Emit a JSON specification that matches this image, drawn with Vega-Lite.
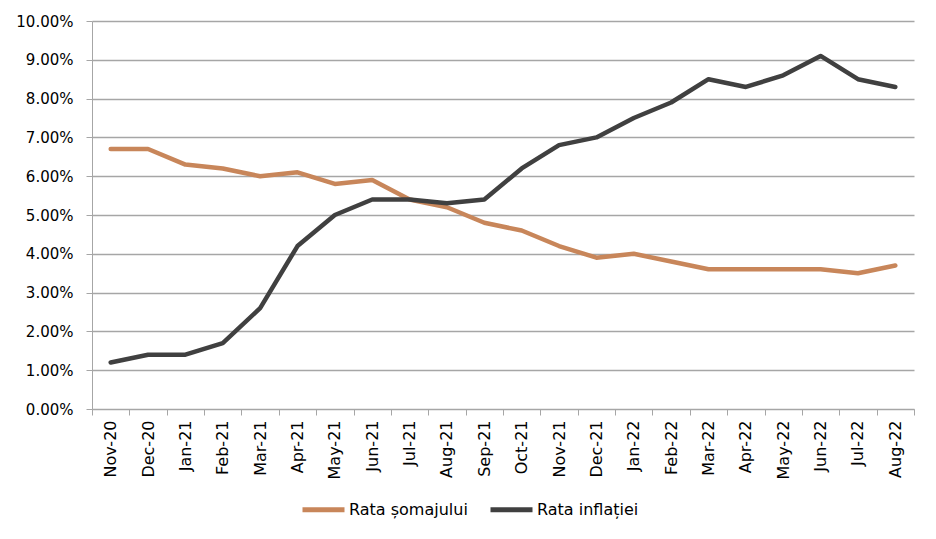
{
  "$schema": "https://vega.github.io/schema/vega-lite/v6.json",
  "width": 822,
  "height": 388,
  "autosize": {"type": "none"},
  "padding": {"left": 92, "top": 21, "right": 22, "bottom": 130},
  "background": "white",
  "config": {
    "view": {"stroke": null},
    "font": "DejaVu Sans",
    "axis": {"labelFont": "DejaVu Sans", "labelColor": "#000000", "gridColor": "#A6A6A6", "domainColor": "#A6A6A6", "tickColor": "#A6A6A6"},
    "legend": {"labelFont": "DejaVu Sans"}
  },
  "data": {
    "values": [
      {"month": "Nov-20", "series": "Rata șomajului", "value": 6.7},
      {"month": "Dec-20", "series": "Rata șomajului", "value": 6.7},
      {"month": "Jan-21", "series": "Rata șomajului", "value": 6.3},
      {"month": "Feb-21", "series": "Rata șomajului", "value": 6.2},
      {"month": "Mar-21", "series": "Rata șomajului", "value": 6.0},
      {"month": "Apr-21", "series": "Rata șomajului", "value": 6.1},
      {"month": "May-21", "series": "Rata șomajului", "value": 5.8},
      {"month": "Jun-21", "series": "Rata șomajului", "value": 5.9},
      {"month": "Jul-21", "series": "Rata șomajului", "value": 5.4},
      {"month": "Aug-21", "series": "Rata șomajului", "value": 5.2},
      {"month": "Sep-21", "series": "Rata șomajului", "value": 4.8},
      {"month": "Oct-21", "series": "Rata șomajului", "value": 4.6},
      {"month": "Nov-21", "series": "Rata șomajului", "value": 4.2},
      {"month": "Dec-21", "series": "Rata șomajului", "value": 3.9},
      {"month": "Jan-22", "series": "Rata șomajului", "value": 4.0},
      {"month": "Feb-22", "series": "Rata șomajului", "value": 3.8},
      {"month": "Mar-22", "series": "Rata șomajului", "value": 3.6},
      {"month": "Apr-22", "series": "Rata șomajului", "value": 3.6},
      {"month": "May-22", "series": "Rata șomajului", "value": 3.6},
      {"month": "Jun-22", "series": "Rata șomajului", "value": 3.6},
      {"month": "Jul-22", "series": "Rata șomajului", "value": 3.5},
      {"month": "Aug-22", "series": "Rata șomajului", "value": 3.7},
      {"month": "Nov-20", "series": "Rata inflației", "value": 1.2},
      {"month": "Dec-20", "series": "Rata inflației", "value": 1.4},
      {"month": "Jan-21", "series": "Rata inflației", "value": 1.4},
      {"month": "Feb-21", "series": "Rata inflației", "value": 1.7},
      {"month": "Mar-21", "series": "Rata inflației", "value": 2.6},
      {"month": "Apr-21", "series": "Rata inflației", "value": 4.2},
      {"month": "May-21", "series": "Rata inflației", "value": 5.0},
      {"month": "Jun-21", "series": "Rata inflației", "value": 5.4},
      {"month": "Jul-21", "series": "Rata inflației", "value": 5.4},
      {"month": "Aug-21", "series": "Rata inflației", "value": 5.3},
      {"month": "Sep-21", "series": "Rata inflației", "value": 5.4},
      {"month": "Oct-21", "series": "Rata inflației", "value": 6.2},
      {"month": "Nov-21", "series": "Rata inflației", "value": 6.8},
      {"month": "Dec-21", "series": "Rata inflației", "value": 7.0},
      {"month": "Jan-22", "series": "Rata inflației", "value": 7.5},
      {"month": "Feb-22", "series": "Rata inflației", "value": 7.9},
      {"month": "Mar-22", "series": "Rata inflației", "value": 8.5},
      {"month": "Apr-22", "series": "Rata inflației", "value": 8.3},
      {"month": "May-22", "series": "Rata inflației", "value": 8.6},
      {"month": "Jun-22", "series": "Rata inflației", "value": 9.1},
      {"month": "Jul-22", "series": "Rata inflației", "value": 8.5},
      {"month": "Aug-22", "series": "Rata inflației", "value": 8.3}
    ]
  },
  "mark": {"type": "line", "strokeWidth": 4.5, "strokeCap": "round", "strokeJoin": "round"},
  "encoding": {
    "x": {
      "field": "month",
      "type": "ordinal",
      "sort": null,
      "bandPosition": 0.5,
      "scale": {"type": "band", "paddingInner": 0, "paddingOuter": 0},
      "axis": {
        "title": null,
        "labelAngle": -90,
        "labelFontSize": 16,
        "labelPadding": 5,
        "tickBand": "extent",
        "tickSize": 6,
        "grid": false,
        "domainColor": "#A6A6A6"
      }
    },
    "y": {
      "field": "value",
      "type": "quantitative",
      "scale": {"domain": [0, 10], "nice": false},
      "axis": {
        "title": null,
        "values": [0, 1, 2, 3, 4, 5, 6, 7, 8, 9, 10],
        "labelExpr": "format(datum.value, '.2f') + '%'",
        "labelFontSize": 15,
        "labelPadding": 13,
        "tickSize": 6,
        "grid": true,
        "gridWidth": 1.5
      }
    },
    "color": {
      "field": "series",
      "type": "nominal",
      "scale": {"domain": ["Rata șomajului", "Rata inflației"], "range": ["#C8865A", "#404040"]},
      "legend": {
        "title": null,
        "orient": "none",
        "legendX": 208,
        "legendY": 465,
        "direction": "horizontal",
        "symbolType": "stroke",
        "symbolStrokeWidth": 5,
        "symbolSize": 1764,
        "labelFontSize": 16,
        "labelColor": "#000000",
        "labelOffset": 2,
        "columnPadding": 12
      }
    }
  }
}
